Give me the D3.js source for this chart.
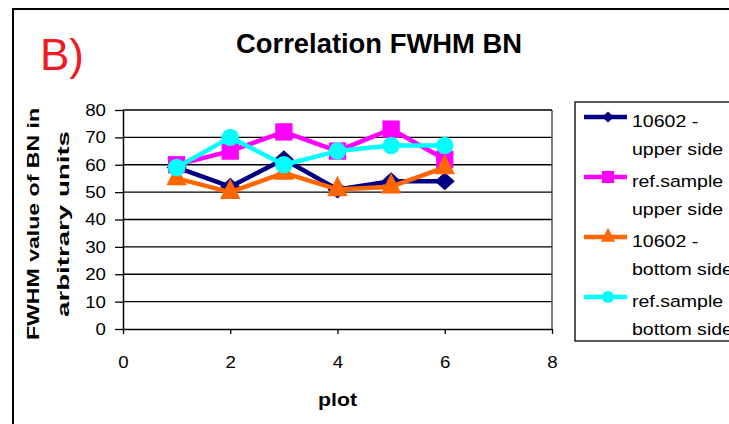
<!DOCTYPE html>
<html lang="en">
<meta charset="utf-8">
<style>
body { margin: 0; background: #fff; }
text { font-family: "Liberation Sans", Arial, sans-serif; }
</style>
<body>
<script src="https://d3js.org/d3.v7.min.js"></script>
<script>
// plot numbers and series values
var plots = [1, 2, 3, 4, 5, 6];
var upper10602 = [59, 52, 62, 51, 54, 54];
var upperRef = [60, 65, 72, 65, 73, 62];
var bottom10602 = [55, 50, 57, 51, 52, 59];
var bottomRef = [59, 70, 60, 65, 67, 67];
var xTicks = [0, 2, 4, 6, 8];
var yTicks = [0, 10, 20, 30, 40, 50, 60, 70, 80];

// diamond drawn as a rotated square
var diamond = { draw: function(ctx, size) {
  var r = Math.sqrt(size / 2);
  ctx.moveTo(0, -r); ctx.lineTo(r, 0); ctx.lineTo(0, r); ctx.lineTo(-r, 0); ctx.closePath();
} };

var series = [
  { name: ["10602 -", "upper side"], values: upper10602, color: "#000080", shape: diamond, size: 200, leg: 72, sy: 0.9 },
  { name: ["ref.sample", "upper side"], values: upperRef, color: "#ff00ff", shape: d3.symbolSquare, size: 300, leg: 150, sy: 1 },
  { name: ["10602 -", "bottom side"], values: bottom10602, color: "#ff6600", shape: d3.symbolTriangle, size: 180, leg: 85, sy: 1.15 },
  { name: ["ref.sample", "bottom side"], values: bottomRef, color: "#00ffff", shape: d3.symbolCircle, size: 240, leg: 115, sy: 1 }
];

var w = 729, h = 424;
var svg = d3.select("body").append("svg").attr("width", w).attr("height", h);

// outer chart border
svg.append("rect").attr("x", 13).attr("y", 9).attr("width", 740).attr("height", 440)
  .attr("fill", "none").attr("stroke", "#000").attr("stroke-width", 2);

svg.append("text").attr("x", 40).attr("y", 70).attr("fill", "#ee1c25")
  .style("font-size", "44px").text("B)");

svg.append("text").attr("x", 379).attr("y", 53).attr("text-anchor", "middle")
  .attr("textLength", 286).attr("lengthAdjust", "spacingAndGlyphs")
  .style("font-size", "27px").style("font-weight", "bold").text("Correlation FWHM BN");

var x = d3.scaleLinear().domain([0, 8]).range([123, 552]);
var y = d3.scaleLinear().domain([0, 80]).range([329, 110]);

// gridlines
svg.append("g").selectAll("line").data(yTicks.slice(1)).enter().append("line")
  .attr("x1", x(0)).attr("x2", x(8))
  .attr("y1", function(d) { return y(d); }).attr("y2", function(d) { return y(d); })
  .attr("stroke", "#000").attr("stroke-width", 1.3);

svg.append("line").attr("x1", x(8)).attr("x2", x(8)).attr("y1", y(80)).attr("y2", y(0))
  .attr("stroke", "#333").attr("stroke-width", 1.3);

var xAxis = svg.append("g").attr("transform", "translate(0," + y(0) + ")")
  .call(d3.axisBottom(x).tickValues(xTicks).tickSizeInner(5).tickSizeOuter(0).tickPadding(22));
var yAxis = svg.append("g").attr("transform", "translate(" + x(0) + ",0)")
  .call(d3.axisLeft(y).tickValues(yTicks).tickSizeInner(8).tickSizeOuter(0).tickPadding(9));
[xAxis, yAxis].forEach(function(a) {
  a.select(".domain").attr("stroke", "#000").attr("stroke-width", 1.5);
  a.selectAll(".tick line").attr("stroke", "#000").attr("stroke-width", 1.3);
  a.selectAll("text").style("font-size", "17px").style("font-family", "Liberation Sans, Arial, sans-serif").attr("fill", "#000");
});
// widen tick labels a little, like the original
xAxis.selectAll(".tick text").attr("transform", "scale(1.1,1)");
yAxis.selectAll(".tick text").attr("x", 0).attr("transform", "translate(-17,0) scale(1.1,1)");

svg.append("text").attr("x", 337.5).attr("y", 406).attr("text-anchor", "middle")
  .attr("textLength", 39).attr("lengthAdjust", "spacingAndGlyphs")
  .style("font-size", "19px").style("font-weight", "bold").text("plot");

var yl = svg.append("text").attr("transform", "translate(0,224) rotate(-90)")
  .attr("text-anchor", "middle").style("font-size", "17px").style("font-weight", "bold");
yl.append("tspan").attr("x", 0).attr("y", 39).attr("textLength", 232)
  .attr("lengthAdjust", "spacingAndGlyphs").text("FWHM value of BN in");
yl.append("tspan").attr("x", 0).attr("y", 69).attr("textLength", 186)
  .attr("lengthAdjust", "spacingAndGlyphs").text("arbitrary units");

var line = d3.line()
  .x(function(d, i) { return x(plots[i]); })
  .y(function(d) { return y(d); });

series.forEach(function(s) {
  var g = svg.append("g");
  g.append("path").datum(s.values).attr("d", line)
    .attr("fill", "none").attr("stroke", s.color).attr("stroke-width", 4.5)
    .attr("stroke-linejoin", "round");
  g.selectAll("path.m").data(s.values).enter().append("path").attr("class", "m")
    .attr("d", d3.symbol().type(s.shape).size(s.size))
    .attr("transform", function(d, i) {
      return "translate(" + x(plots[i]) + "," + y(d) + ") scale(1," + s.sy + ")";
    })
    .attr("fill", s.color);
});

// legend
svg.append("rect").attr("x", 575).attr("y", 102).attr("width", 200).attr("height", 239)
  .attr("fill", "#fff").attr("stroke", "#000").attr("stroke-width", 1.3);
series.forEach(function(s, k) {
  var ly = 117 + k * 60;
  svg.append("line").attr("x1", 584).attr("x2", 627).attr("y1", ly).attr("y2", ly)
    .attr("stroke", s.color).attr("stroke-width", 4.5);
  svg.append("path").attr("d", d3.symbol().type(s.shape).size(s.leg))
    .attr("transform", "translate(608," + ly + ") scale(1," + s.sy + ")")
    .attr("fill", s.color);
  var t = svg.append("text").attr("transform", "translate(632," + (ly + 10) + ") scale(1.15,1)")
    .style("font-size", "17px");
  t.append("tspan").attr("x", 0).attr("y", 0).text(s.name[0]);
  t.append("tspan").attr("x", 0).attr("y", 28).text(s.name[1]);
});
</script>
</body>
</html>
